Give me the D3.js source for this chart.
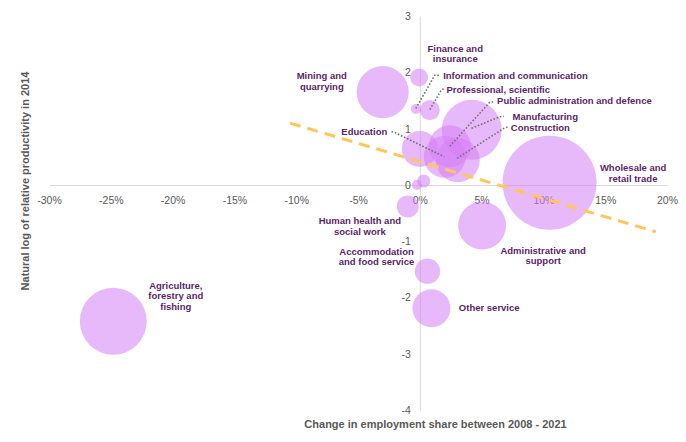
<!DOCTYPE html>
<html>
<head>
<meta charset="utf-8">
<script src="https://cdn.jsdelivr.net/npm/d3@7"></script>
<style>
  body { margin: 0; background: #fff; }
  svg text { font-family: "Liberation Sans", Arial, sans-serif; }
</style>
</head>
<body>
<div id="chart"></div>
<script>
// bubbles: change in employment share (%), log relative productivity, bubble size
const sectors = ["Agriculture", "Mining", "Finance", "Information", "Professional",
  "Manufacturing", "Public admin", "Education", "Construction", "Real estate",
  "Wholesale", "Electricity", "Water supply", "Human health", "Administrative",
  "Accommodation", "Other service"];
const shareChange = [-24.8, -3.0, -0.06, -0.32, 0.81, 4.2, 2.43, 2.02, 3.07, 0.0,
  10.5, -0.24, 0.32, -0.97, 5.04, 0.62, 0.94];
const productivity = [-2.42, 1.65, 1.91, 1.35, 1.33, 0.98, 0.69, 0.50, 0.44, 0.64,
  0.04, 0.0, 0.07, -0.38, -0.72, -1.53, -2.19];
const bubbleSize = [7.6, 4.6, 0.55, 0.17, 0.68, 6.1, 3.0, 3.0, 3.3, 2.2,
  15, 0.17, 0.29, 0.82, 3.9, 1.1, 2.45];

// dashed trend line end points
const trendX = [-10.5, 19.1];
const trendY = [1.10, -0.83];

const xTicks = [-30, -25, -20, -15, -10, -5, 0, 5, 10, 15, 20];
const yTicks = [-4, -3, -2, -1, 0, 1, 2, 3];

// data labels, anchored in data units
const labelText = [
  ["Finance and", "insurance"],
  ["Mining and", "quarrying"],
  ["Information and communication"],
  ["Professional, scientific"],
  ["Public administration and defence"],
  ["Manufacturing"],
  ["Construction"],
  ["Education"],
  ["Wholesale and", "retail trade"],
  ["Human health and", "social work"],
  ["Accommodation", "and food service"],
  ["Administrative and", "support"],
  ["Other service"],
  ["Agriculture,", "forestry and", "fishing"]
];
const labelX = [2.87, -7.93, 1.89, 2.16, 6.25, 7.50, 7.36, -2.63, 17.26, -4.85, -3.5, 9.98, 3.16, -19.74];
const labelY = [2.43, 1.94, 1.95, 1.70, 1.49, 1.22, 1.02, 0.94, 0.31, -0.64, -1.18, -1.16, -2.18, -1.78];
const labelAnchor = ["middle", "middle", "start", "start", "start", "start", "start", "end",
  "middle", "middle", "middle", "middle", "start", "middle"];

// dotted leader lines, points in data units
const leaders = [
  [[-0.32, 1.36], [1.21, 1.95], [1.62, 1.95]],
  [[0.81, 1.34], [1.78, 1.70], [2.02, 1.705]],
  [[2.43, 0.69], [5.66, 1.47], [6.07, 1.48]],
  [[4.18, 1.007], [6.47, 1.213], [6.80, 1.22]],
  [[3.02, 0.474], [6.88, 1.018], [7.12, 1.03]],
  [[-2.29, 0.947], [-2.0, 0.93], [1.97, 0.503]]
];

function createChart() {
  const width = 686, height = 442;

  const svg = d3.select("#chart")
    .append("svg")
      .attr("width", width)
      .attr("height", height);

  const xScale = d3.scaleLinear().domain([-30, 20]).range([49, 667]);
  const yScale = d3.scaleLinear().domain([-4, 3]).range([410.2, 16.1]);
  const rScale = d3.scaleSqrt().domain([0, 15]).range([0, 47]);

  // axes through the origin
  const xAxis = svg.append("g")
    .attr("transform", `translate(0,${yScale(0)})`)
    .call(d3.axisBottom(xScale).tickValues(xTicks).tickSize(0).tickPadding(11.5)
      .tickFormat(d => d + "%"));
  const yAxis = svg.append("g")
    .attr("transform", `translate(${xScale(0)},0)`)
    .call(d3.axisLeft(yScale).tickValues(yTicks).tickSize(0).tickPadding(9)
      .tickFormat(d => d));

  [xAxis, yAxis].forEach(g => {
    g.select(".domain").attr("stroke", "#d9d9d9").attr("stroke-width", 1);
    g.selectAll("text")
      .attr("fill", "#595959")
      .style("font-size", "10.5px")
      .style("font-family", "'Liberation Sans', Arial, sans-serif");
  });

  const pts = sectors.map((s, i) => ({
    name: s, x: shareChange[i], y: productivity[i], size: bubbleSize[i]
  }));

  svg.append("g")
    .selectAll("circle")
    .data(pts)
    .enter()
    .append("circle")
    .attr("cx", d => xScale(d.x))
    .attr("cy", d => yScale(d.y))
    .attr("r", d => rScale(d.size))
    .attr("fill", "#d67ff5")
    .attr("fill-opacity", 0.55);

  // trend line
  svg.append("line")
    .attr("x1", xScale(trendX[0])).attr("y1", yScale(trendY[0]))
    .attr("x2", xScale(trendX[1])).attr("y2", yScale(trendY[1]))
    .attr("stroke", "#ffc65c")
    .attr("stroke-width", 3)
    .attr("stroke-dasharray", "11 7");

  const line = d3.line().x(d => xScale(d[0])).y(d => yScale(d[1]));
  svg.append("g")
    .selectAll("path")
    .data(leaders)
    .enter()
    .append("path")
    .attr("d", line)
    .attr("fill", "none")
    .attr("stroke", "#737373")
    .attr("stroke-width", 1.6)
    .attr("stroke-dasharray", "1.6 1.8");

  const labels = svg.append("g")
    .selectAll("text")
    .data(labelText)
    .enter()
    .append("text")
    .attr("x", (d, i) => xScale(labelX[i]))
    .attr("y", (d, i) => yScale(labelY[i]))
    .attr("text-anchor", (d, i) => labelAnchor[i])
    .attr("fill", "#5b1f69")
    .style("font-size", "9.5px")
    .style("font-weight", "bold");

  labels.each(function(d, i) {
    d3.select(this).selectAll("tspan")
      .data(d)
      .enter()
      .append("tspan")
      .attr("x", xScale(labelX[i]))
      .attr("dy", (t, j) => j === 0 ? "0.35em" : "10.7px")
      .text(t => t);
  });

  // axis titles
  svg.append("text")
    .attr("x", 435.5)
    .attr("y", 428)
    .attr("text-anchor", "middle")
    .attr("fill", "#595959")
    .style("font-size", "11px")
    .style("font-weight", "bold")
    .text("Change in employment share between 2008 - 2021");

  svg.append("text")
    .attr("transform", "translate(25,181) rotate(-90)")
    .attr("text-anchor", "middle")
    .attr("dy", "0.35em")
    .attr("fill", "#595959")
    .style("font-size", "11px")
    .style("font-weight", "bold")
    .text("Natural log of relative productivity in 2014");

  return svg;
}

const chart = createChart();
</script>
</body>
</html>
